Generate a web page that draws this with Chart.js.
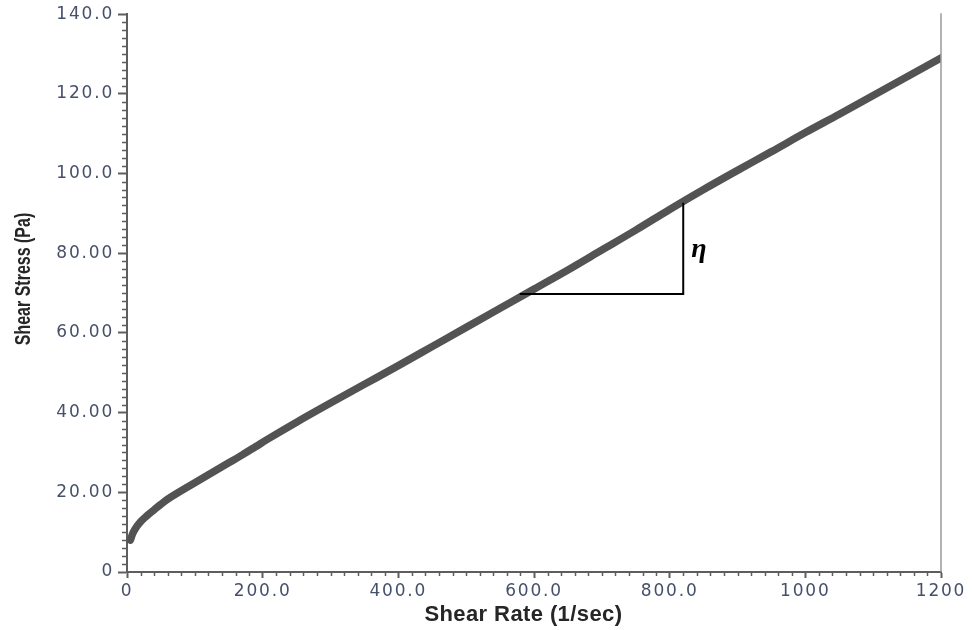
<!DOCTYPE html>
<html>
<head>
<meta charset="utf-8">
<script src="https://cdn.jsdelivr.net/npm/chart.js@4.4.1/dist/chart.umd.min.js"></script>
<style>
  html, body { margin: 0; padding: 0; background: #ffffff; }
  #wrap { width: 972px; height: 630px; }
</style>
</head>
<body>
<div id="wrap"><canvas id="flowCurve" width="972" height="630"></canvas></div>
<script>
// Flow curve: shear stress against shear rate
const shearRate = [5, 8, 12, 20, 30, 40, 50, 60, 75, 90, 110, 130, 150, 170, 190, 210,
                   250, 300, 350, 400, 450, 500, 550, 600, 650, 700, 750, 800, 850,
                   900, 950, 1000, 1050, 1100, 1150, 1200];
const shearStress = [8.0, 9.5, 10.8, 12.6, 14.2, 15.6, 17.0, 18.3, 19.9, 21.4, 23.4, 25.4, 27.4, 29.4, 31.5, 33.6,
                     37.6, 42.4, 47.1, 51.8, 56.6, 61.4, 66.2, 71.0, 75.8, 80.8, 85.8, 91.0, 96.0,
                     100.8, 105.5, 110.3, 114.9, 119.6, 124.3, 129.0];

// Slope triangle marking the viscosity
const slopeRate = [579, 820, 820];
const slopeStress = [69.8, 69.8, 92.7];
const slopeSymbol = 'η';

// Axis ticks and labels
const xTickValues = [0, 200, 400, 600, 800, 1000, 1200];
const xTickLabels = ['0', '200.0', '400.0', '600.0', '800.0', '1000', '1200'];
const yTickValues = [0, 20, 40, 60, 80, 100, 120, 140];
const yTickLabels = ['0', '20.00', '40.00', '60.00', '80.00', '100.0', '120.0', '140.0'];
const xMinorStep = 20;
const yMinorStep = 2;
const xTitle = 'Shear Rate (1/sec)';
const yTitle = 'Shear Stress (Pa)';

const axisColor = '#5e5e5e';
const labelColor = '#46506a';
const titleColor = '#262626';

const curvePoints = shearRate.map((x, i) => ({ x: x, y: shearStress[i] }));
const slopePoints = slopeRate.map((x, i) => ({ x: x, y: slopeStress[i] }));

const decorations = {
  id: 'decorations',
  beforeDraw(chart) {
    // wide tracking for the tick labels
    chart.ctx.letterSpacing = '1.8px';
  },
  afterDraw(chart) {
    const ctx = chart.ctx;
    const xs = chart.scales.x;
    const ys = chart.scales.y;
    const area = chart.chartArea;
    ctx.save();
    ctx.letterSpacing = '0px';

    // minor ticks
    ctx.strokeStyle = axisColor;
    ctx.lineWidth = 1.5;
    ctx.beginPath();
    for (let v = xs.min; v <= xs.max; v += xMinorStep) {
      if (xTickValues.includes(v)) continue;
      const px = Math.round(xs.getPixelForValue(v)) + 0.5;
      ctx.moveTo(px, area.bottom);
      ctx.lineTo(px, area.bottom + 4);
    }
    for (let v = ys.min; v <= ys.max; v += yMinorStep) {
      if (yTickValues.includes(v)) continue;
      const py = Math.round(ys.getPixelForValue(v)) + 0.5;
      ctx.moveTo(area.left - 5, py);
      ctx.lineTo(area.left, py);
    }
    ctx.stroke();

    // right frame line
    ctx.strokeStyle = '#9a9a9a';
    ctx.lineWidth = 1.5;
    ctx.beginPath();
    ctx.moveTo(area.right, area.top - 1);
    ctx.lineTo(area.right, area.bottom);
    ctx.stroke();

    // viscosity symbol beside the triangle
    ctx.fillStyle = '#000000';
    ctx.font = "bold italic 28px 'Liberation Serif', serif";
    ctx.textAlign = 'left';
    ctx.textBaseline = 'alphabetic';
    const sx = xs.getPixelForValue(slopeRate[2]) + 8;
    const sy = ys.getPixelForValue((slopeStress[0] + slopeStress[2]) / 2) + 9;
    ctx.fillText(slopeSymbol, sx, sy);

    // axis titles
    ctx.fillStyle = titleColor;
    ctx.font = "bold 22px 'Liberation Sans', Arial, sans-serif";
    ctx.letterSpacing = '0.4px';
    ctx.textAlign = 'center';
    ctx.textBaseline = 'alphabetic';
    ctx.fillText(xTitle, area.left + (area.right - area.left) * 0.487, 621);

    ctx.letterSpacing = '0px';
    ctx.translate(30, 279);
    ctx.rotate(-Math.PI / 2);
    ctx.scale(1, 1.4);
    ctx.font = "bold 16px 'Liberation Sans', Arial, sans-serif";
    ctx.textAlign = 'center';
    ctx.textBaseline = 'alphabetic';
    ctx.fillText(yTitle, 0, 0);
    ctx.restore();
  }
};

new Chart(document.getElementById('flowCurve'), {
  type: 'line',
  data: {
    datasets: [
      {
        data: slopePoints,
        borderColor: '#000000',
        borderWidth: 2,
        pointRadius: 0,
        tension: 0,
        fill: false
      },
      {
        data: curvePoints,
        borderColor: '#535353',
        borderWidth: 7.5,
        borderCapStyle: 'round',
        borderJoinStyle: 'round',
        pointRadius: 0,
        cubicInterpolationMode: 'monotone',
        fill: false
      }
    ]
  },
  options: {
    responsive: false,
    animation: false,
    devicePixelRatio: 1,
    layout: { padding: { left: 0, right: 31, top: 13, bottom: 0 } },
    plugins: { legend: { display: false }, tooltip: { enabled: false } },
    scales: {
      x: {
        type: 'linear',
        min: 0,
        max: 1200,
        afterBuildTicks: s => { s.ticks = xTickValues.map(v => ({ value: v })); },
        afterFit: s => { s.height = 58; },
        grid: { drawOnChartArea: false, drawTicks: true, tickLength: 6, tickWidth: 2, tickColor: axisColor },
        border: { display: true, color: axisColor, width: 2 },
        ticks: {
          maxRotation: 0,
          autoSkip: false,
          padding: 3,
          color: labelColor,
          font: { family: "'DejaVu Sans', sans-serif", size: 17 },
          callback: v => xTickLabels[xTickValues.indexOf(v)]
        }
      },
      y: {
        type: 'linear',
        min: 0,
        max: 140,
        afterBuildTicks: s => { s.ticks = yTickValues.map(v => ({ value: v })); },
        afterFit: s => { s.width = 127; },
        grid: { drawOnChartArea: false, drawTicks: true, tickLength: 9, tickWidth: 2, tickColor: axisColor },
        border: { display: true, color: axisColor, width: 2 },
        ticks: {
          autoSkip: false,
          padding: 4,
          color: labelColor,
          font: { family: "'DejaVu Sans', sans-serif", size: 17 },
          callback: v => yTickLabels[yTickValues.indexOf(v)]
        }
      }
    }
  },
  plugins: [decorations]
});
</script>
</body>
</html>
